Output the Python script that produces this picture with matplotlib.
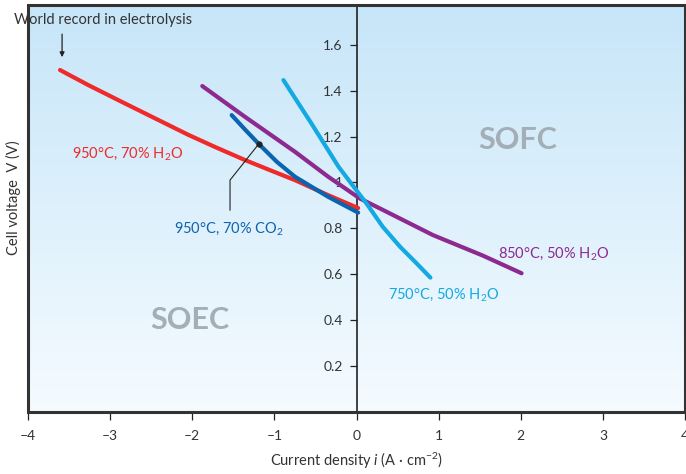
import numpy as np
import matplotlib.pyplot as plt
from matplotlib.patches import Rectangle

plt.rcParams["font.family"] = ["Lato", "DejaVu Sans"]
plt.rcParams["mathtext.fontset"] = "custom"
plt.rcParams["mathtext.rm"] = "Lato"
plt.rcParams["mathtext.it"] = "Lato:italic"
plt.rcParams["mathtext.bf"] = "Lato:bold"

# curves (current density, cell voltage)
red_x = [-3.61, -3.265, -2.859, -2.454, -2.049, -1.724, -1.36, -1.05, -0.75, -0.35, 0.02]
red_y = [1.491, 1.425, 1.352, 1.280, 1.208, 1.155, 1.098, 1.053, 1.010, 0.945, 0.888]

co2_x = [-1.52, -1.36, -1.19, -0.97, -0.75, -0.345, 0.02]
co2_y = [1.294, 1.232, 1.168, 1.09, 1.025, 0.937, 0.868]

purple_x = [-1.878, -1.36, -0.75, -0.345, 0.04, 0.32, 0.93, 1.54, 2.01]
purple_y = [1.421, 1.287, 1.134, 1.025, 0.93, 0.88, 0.77, 0.68, 0.603]

cyan_x = [-0.89, -0.55, -0.22, 0.0, 0.12, 0.32, 0.53, 0.73, 0.90]
cyan_y = [1.447, 1.258, 1.069, 0.965, 0.909, 0.806, 0.719, 0.647, 0.584]

xticks = [-4, -3, -2, -1, 0, 1, 2, 3, 4]
yticks = [0.2, 0.4, 0.6, 0.8, 1.0, 1.2, 1.4, 1.6]
ytick_labels = ["0.2", "0.4", "0.6", "0.8", "1", "1.2", "1.4", "1.6"]

RED = "#ee2a2a"
BLUE = "#0b64ae"
PURPLE = "#8c2a90"
CYAN = "#14a9e1"
TXT = "#333333"

fig = plt.figure(figsize=(6.86, 4.74), dpi=100)
ax = fig.add_axes([28 / 686, (474 - 412) / 474, (685 - 28) / 686, (412 - 5) / 474])

# background gradient, light blue at the top fading to near white
grad = np.linspace(0, 1, 256).reshape(-1, 1)
top = np.array([0.78, 0.90, 0.975])
bot = np.array([0.96, 0.985, 1.0])
img = bot + (top - bot) * grad
ax.imshow(img.reshape(256, 1, 3), extent=[-4, 4, -0.003, 1.775], origin="lower",
          aspect="auto", zorder=0)
ax.set_xlim(-4, 4)
ax.set_ylim(-0.003, 1.775)

ax.plot(red_x, red_y, color=RED, lw=3, solid_capstyle="round", zorder=3)
ax.plot(purple_x, purple_y, color=PURPLE, lw=3, solid_capstyle="round", zorder=3)
ax.plot(co2_x, co2_y, color=BLUE, lw=3, solid_capstyle="round", zorder=4)
ax.plot(cyan_x, cyan_y, color=CYAN, lw=3, solid_capstyle="round", zorder=5)

# spines: y axis through zero, box frame around
for s in ["top", "right", "bottom"]:
    ax.spines[s].set_visible(False)
ax.spines["left"].set_position(("data", 0))
ax.spines["left"].set_color("#222222")
ax.spines["left"].set_linewidth(1.2)
ax.add_patch(Rectangle((0, 0), 1, 1, transform=ax.transAxes, fill=False,
                       lw=2.2, ec="#333333", clip_on=False, zorder=6))

ax.set_yticks(yticks)
ax.set_yticklabels(ytick_labels)
ax.tick_params(axis="y", direction="out", length=5, width=0.9, color="#222222",
               labelsize=10, labelcolor=TXT, pad=5)
ax.set_xticks(xticks)
ax.set_xticklabels(["\u2013" + str(-t) if t < 0 else str(t) for t in xticks])
ax.tick_params(axis="x", direction="out", length=6, width=0.9, color="#222222",
               labelsize=10, labelcolor=TXT, pad=7)

ax.set_xlabel("Current density $i$ (A \u00b7 cm$^{\u22122}$)", fontsize=10.5, color=TXT, labelpad=6)
fig.text(13 / 686, 1 - 198 / 474, "Cell voltage  V (V)", rotation=90, fontsize=10.5,
         color=TXT, ha="center", va="center")

# labels
ax.text(-3.47, 1.124, "950\u00b0C, 70% H$_2$O", color=RED, fontsize=10.5, va="center")
ax.text(-2.22, 0.797, "950\u00b0C, 70% CO$_2$", color=BLUE, fontsize=10.5, va="center")
ax.text(1.72, 0.687, "850\u00b0C, 50% H$_2$O", color=PURPLE, fontsize=10.5, va="center")
ax.text(0.38, 0.508, "750\u00b0C, 50% H$_2$O", color=CYAN, fontsize=10.5, va="center")
ax.text(1.96, 1.185, "SOFC", color="#a3aeb6", fontsize=22, fontweight="bold", ha="center", va="center")
ax.text(-2.03, 0.40, "SOEC", color="#a3aeb6", fontsize=22, fontweight="bold", ha="center", va="center")

ax.text(-4.17, 1.709, "World record in electrolysis", color=TXT, fontsize=10.5, va="center")
ax.annotate("", xy=(-3.585, 1.535), xytext=(-3.585, 1.66),
            arrowprops=dict(arrowstyle="-|>", color="#222222", lw=0.9, mutation_scale=7))

# leader line to CO2 curve
ax.plot([-1.19, -1.54, -1.54], [1.168, 1.01, 0.879], color="#222222", lw=0.8, zorder=6)
ax.plot([-1.19], [1.168], "o", color="#222222", ms=3.5, zorder=6)

fig.savefig("out.png", dpi=100)
